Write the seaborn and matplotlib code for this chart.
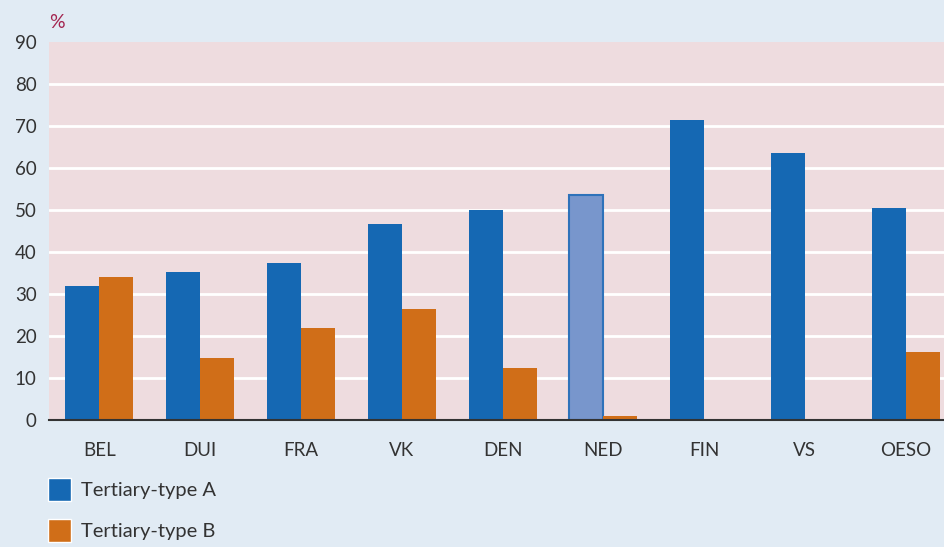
import matplotlib
matplotlib.use("Agg")
import matplotlib.pyplot as plt
from matplotlib.patches import Patch
import seaborn as sns
import pandas as pd

countries = ["BEL", "DUI", "FRA", "VK", "DEN", "NED", "FIN", "VS", "OESO"]
type_a = [32, 35.2, 37.4, 46.7, 50, 53.6, 71.4, 63.6, 50.5]
type_b = [34, 14.8, 21.9, 26.4, 12.4, 1.0, 0, 0, 16.2]
series = ["Tertiary-type A", "Tertiary-type B"]
yticks = [0, 10, 20, 30, 40, 50, 60, 70, 80, 90]

blue = "#1568B3"
orange = "#D06E18"
bg = "#E1EBF4"
plot_bg = "#EEDCDF"

df = pd.DataFrame({
    "land": countries * 2,
    "waarde": type_a + type_b,
    "type": [series[0]] * len(countries) + [series[1]] * len(countries),
})

sns.set_style("white")
plt.rcParams["font.family"] = ["Lato", "DejaVu Sans"]

fig = plt.figure(figsize=(9.44, 5.47), dpi=100, facecolor=bg)
ax = fig.add_axes([0.0519, 0.2322, 0.9481, 0.691])
ax.set_facecolor(plot_bg)

sns.barplot(data=df, x="land", y="waarde", hue="type", palette=[blue, orange],
            width=0.675, saturation=1, ax=ax, legend=False, linewidth=0)

# NED bar lighter
ned = ax.containers[0][countries.index("NED")]
ned.set_facecolor("#7896CC")
ned.set_edgecolor("#2E72BA")
ned.set_linewidth(1.5)

ax.set_ylim(0, 90)
ax.set_xlim(-0.5, 8.38)
ax.set_yticks(yticks)
ax.yaxis.grid(True, color="white", linewidth=2)
ax.get_ygridlines()[-1].set_visible(False)
ax.set_axisbelow(True)
for s in ["top", "right", "left"]:
    ax.spines[s].set_visible(False)
ax.spines["bottom"].set_color("#333333")
ax.spines["bottom"].set_linewidth(1.5)
ax.spines["bottom"].set_zorder(5)

ax.tick_params(axis="y", length=0, pad=9, labelsize=13.5, labelcolor="#333333")
ax.tick_params(axis="x", direction="inout", length=11, width=1.3, color="#444444",
               pad=10, labelsize=13.5, labelcolor="#333333")
ax.set_xlabel("")
ax.set_ylabel("")
fig.text(0.052, 0.958, "%", color="#A3244F", fontsize=14, va="center")

handles = [Patch(facecolor=blue), Patch(facecolor=orange)]
fig.legend(handles, series, loc="upper left", bbox_to_anchor=(0.032, 0.159),
           frameon=False, fontsize=14.5, handlelength=1.15, handleheight=1.35,
           handletextpad=0.45, labelspacing=0.92, labelcolor="#333333")

fig.savefig("out.png", dpi=100, facecolor=bg)
